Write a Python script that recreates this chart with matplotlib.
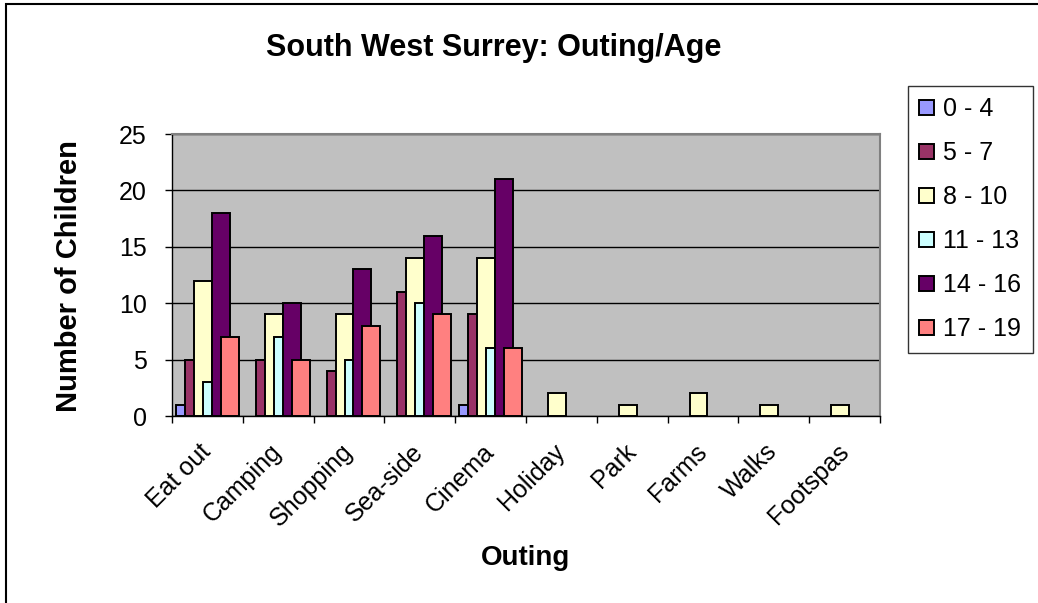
import numpy as np
import matplotlib
matplotlib.use("Agg")
import matplotlib.pyplot as plt
from matplotlib.patches import Rectangle

# chart data
outings = ["Eat out", "Camping", "Shopping", "Sea-side", "Cinema",
           "Holiday", "Park", "Farms", "Walks", "Footspas"]
age_groups = ["0 - 4", "5 - 7", "8 - 10", "11 - 13", "14 - 16", "17 - 19"]
age_0_4 = [1, 0, 0, 0, 1, 0, 0, 0, 0, 0]
age_5_7 = [5, 5, 4, 11, 9, 0, 0, 0, 0, 0]
age_8_10 = [12, 9, 9, 14, 14, 2, 1, 2, 1, 1]
age_11_13 = [3, 7, 5, 10, 6, 0, 0, 0, 0, 0]
age_14_16 = [18, 10, 13, 16, 21, 0, 0, 0, 0, 0]
age_17_19 = [7, 5, 8, 9, 6, 0, 0, 0, 0, 0]
series = [age_0_4, age_5_7, age_8_10, age_11_13, age_14_16, age_17_19]

# old excel palette
colors = ["#9999FF", "#993366", "#FFFFCC", "#CCFFFF", "#660066", "#FF8080"]

plt.rcParams['font.family'] = ['Liberation Sans', 'DejaVu Sans']

W, H = 1038, 603
fig = plt.figure(figsize=(W / 100, H / 100), dpi=100)
ax = fig.add_axes([172 / W, 1 - 416 / H, (880 - 172) / W, (416 - 134) / H])
ax.set_facecolor("#C0C0C0")

x = np.arange(len(outings)) + 0.5
step = 0.127
width = 0.254
for i, (vals, col, lab) in enumerate(zip(series, colors, age_groups)):
    vals = np.array(vals, dtype=float)
    keep = vals > 0     # excel draws nothing for zero counts
    ax.bar((x + (i - 2.5) * step)[keep], vals[keep], width=width, color=col,
           edgecolor="black", linewidth=1.4, label=lab, zorder=3 + i)

ax.set_xlim(0, len(outings))
ax.set_ylim(0, 25)
ax.set_yticks(np.arange(0, 26, 5))
ax.yaxis.grid(True, color="black", linewidth=1.0, zorder=1)
ax.set_axisbelow(True)

# ticks between categories, labels at centres
ax.set_xticks(np.arange(0, len(outings) + 1))
ax.set_xticklabels([])
ax.set_xticks(x, minor=True)
ax.set_xticklabels(outings, minor=True, rotation=45, ha="right", va="center",
                   rotation_mode="anchor", fontsize=18)
ax.tick_params(axis="x", which="minor", length=0, pad=23)
ax.tick_params(axis="x", which="major", length=5, direction="out", width=1)
ax.tick_params(axis="y", length=5, direction="out", width=1, labelsize=18, pad=13)

for side in ["left", "bottom"]:
    ax.spines[side].set_color("black")
    ax.spines[side].set_linewidth(1.0)
for side in ["top", "right"]:
    ax.spines[side].set_color("#808080")
    ax.spines[side].set_linewidth(1.5)

ax.set_ylabel("Number of Children", fontsize=21, fontweight="bold")
ax.yaxis.set_label_coords(-0.1257, 0.497)
ax.set_xlabel("Outing", fontsize=20, fontweight="bold")
ax.xaxis.set_label_coords(0.4986, -0.457)
fig.text(494 / W, 1 - 48 / H, "South West Surrey: Outing/Age",
         fontsize=22, fontweight="bold", ha="center", va="center")

leg = fig.legend(loc="upper left", bbox_to_anchor=(908 / W, 1 - 86 / H),
                 bbox_transform=fig.transFigure, fontsize=18, frameon=True,
                 fancybox=False, edgecolor="black", borderaxespad=0,
                 handlelength=0.6, handleheight=0.6, handletextpad=0.36,
                 labelspacing=0.8, borderpad=0.45)
leg.get_frame().set_linewidth(1.0)

# outer chart border
fig.patches.append(Rectangle((6 / W, -0.05), 1.1, 1 - 4 / H + 0.05,
                             transform=fig.transFigure, fill=False,
                             edgecolor="black", linewidth=1.5))

fig.savefig("out.png", dpi=100)
